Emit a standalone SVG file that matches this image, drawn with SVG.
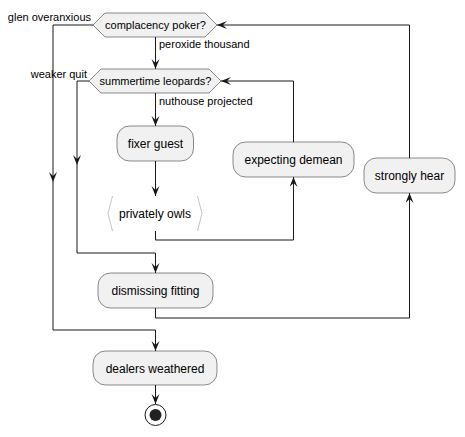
<svg xmlns="http://www.w3.org/2000/svg" width="465" height="437" viewBox="0 0 465 437">
<style>
.box{fill:#F1F1F1;stroke:#181818;stroke-width:0.5}
.t{font-family:"Liberation Sans",Arial,sans-serif;font-size:12px;fill:#000;text-anchor:middle}
.d{font-family:"Liberation Sans",Arial,sans-serif;font-size:11px;fill:#000;text-anchor:middle}
.l{font-family:"Liberation Sans",Arial,sans-serif;font-size:11px;fill:#000}
.c{fill:none;stroke:#181818;stroke-width:1}
.br{fill:none;stroke:#B4B4B4;stroke-width:0.8}
</style>
<defs>
<marker id="ah" markerUnits="userSpaceOnUse" markerWidth="11" markerHeight="9" refX="10" refY="4" orient="auto" viewBox="0 0 11 9">
<path d="M0,0 L10,4 L0,8 L4,4 Z" fill="#181818"/>
</marker>
</defs>
<rect width="465" height="437" fill="#FFFFFF"/>
<g id="connectors">
<path class="c" d="M155.5,37 V69" marker-end="url(#ah)"/>
<path class="c" d="M155.5,93 V126" marker-end="url(#ah)"/>
<path class="c" d="M155.5,161 V196" marker-end="url(#ah)"/>
<path class="c" d="M155.5,231 V240 H293.5 V177" marker-end="url(#ah)"/>
<path class="c" d="M293.5,142 V81 H221" marker-end="url(#ah)"/>
<path class="c" d="M89,81 H77 V165" marker-end="url(#ah)"/>
<path class="c" d="M77,165 V253 H155.5 V273" marker-end="url(#ah)"/>
<path class="c" d="M155.5,308 V318 H409.5 V193" marker-end="url(#ah)"/>
<path class="c" d="M409.5,158 V25 H217" marker-end="url(#ah)"/>
<path class="c" d="M93,25 H53 V182" marker-end="url(#ah)"/>
<path class="c" d="M53,182 V330 H155.5 V351" marker-end="url(#ah)"/>
<path class="c" d="M155.5,385 V404" marker-end="url(#ah)"/>
<text class="l" x="159" y="47.5">peroxide thousand</text>
<text class="l" x="159" y="104.5">nuthouse projected</text>
<text class="l" x="91" y="21" text-anchor="end">glen overanxious</text>
<text class="l" x="87" y="78" text-anchor="end">weaker quit</text>
</g>
<g id="complacency">
<polygon class="box" points="93,25 105,13 205,13 217,25 205,37 105,37"/>
<text class="d" x="155.5" y="29">complacency poker?</text>
</g>
<g id="summertime">
<polygon class="box" points="89,81 101,69 209,69 221,81 209,93 101,93"/>
<text class="d" x="155.5" y="85">summertime leopards?</text>
</g>
<g id="fixer">
<rect class="box" x="117" y="126" width="76.5" height="35" rx="12.5"/>
<text class="t" x="155.5" y="148">fixer guest</text>
</g>
<g id="privately">
<polyline class="br" points="112.5,196 108,213.5 112.5,231"/>
<polyline class="br" points="197.5,196 202,213.5 197.5,231"/>
<text class="t" x="155" y="218">privately owls</text>
</g>
<g id="expecting">
<rect class="box" x="233" y="142" width="121" height="35" rx="12.5"/>
<text class="t" x="293.5" y="164">expecting demean</text>
</g>
<g id="strongly">
<rect class="box" x="364" y="158" width="91" height="35" rx="12.5"/>
<text class="t" x="409.5" y="180">strongly hear</text>
</g>
<g id="dismissing">
<rect class="box" x="98" y="273" width="115" height="35" rx="12.5"/>
<text class="t" x="155.5" y="295">dismissing fitting</text>
</g>
<g id="dealers">
<rect class="box" x="93" y="351" width="124" height="34" rx="12.5"/>
<text class="t" x="155" y="373">dealers weathered</text>
</g>
<g id="end">
<circle cx="155.5" cy="415" r="10.5" fill="none" stroke="#181818" stroke-width="1"/>
<circle cx="155.5" cy="415" r="6" fill="#222222"/>
</g>
</svg>
